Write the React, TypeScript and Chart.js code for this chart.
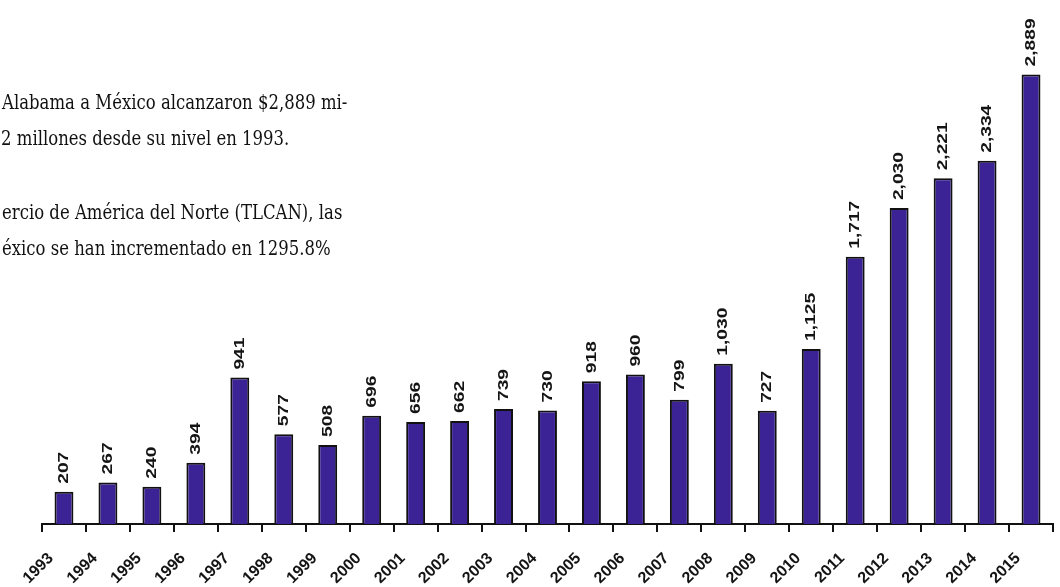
import React, { useEffect, useRef } from 'react';
import { Chart, registerables } from 'chart.js';

Chart.register(...registerables);

const years = ['1993', '1994', '1995', '1996', '1997', '1998', '1999', '2000', '2001', '2002', '2003', '2004', '2005', '2006', '2007', '2008', '2009', '2010', '2011', '2012', '2013', '2014', '2015'];
const exportsMillions = [207, 267, 240, 394, 941, 577, 508, 696, 656, 662, 739, 730, 918, 960, 799, 1030, 727, 1125, 1717, 2030, 2221, 2334, 2889];
const textLines = [
  { text: 'Alabama a México alcanzaron $2,889 mi-', y: 103, x: 2 },
  { text: '2 millones desde su nivel en 1993.', y: 139, x: 1 },
  { text: 'ercio de América del Norte (TLCAN), las', y: 213, x: 2 },
  { text: 'éxico se han incrementado en 1295.8%', y: 249, x: 2 },
];

const LABEL_STRETCH = 1.28;
const TEXT_STRETCH = 1.2;

export default function App() {
  const ref = useRef<HTMLCanvasElement | null>(null);

  useEffect(() => {
    const valueLabels = {
      id: 'valueLabels',
      afterDatasetsDraw(chart: any) {
        const ctx = chart.ctx;
        const meta = chart.getDatasetMeta(0);
        const data = chart.data.datasets[0].data as number[];
        ctx.save();
        ctx.fillStyle = '#141414';
        ctx.font = 'bold 15px "Liberation Sans", Arial, sans-serif';
        ctx.textAlign = 'left';
        ctx.textBaseline = 'middle';
        meta.data.forEach((bar: any, i: number) => {
          ctx.save();
          ctx.translate(bar.x, bar.y - 8);
          ctx.rotate(-Math.PI / 2);
          ctx.scale(LABEL_STRETCH, 1);
          ctx.fillText(data[i].toLocaleString('en-US'), 0, 0);
          ctx.restore();
        });
        ctx.restore();
      },
    };

    const chart = new Chart(ref.current as HTMLCanvasElement, {
      type: 'bar',
      data: {
        labels: years,
        datasets: [
          {
            data: exportsMillions,
            backgroundColor: '#3b2396',
            borderColor: '#111111',
            borderWidth: 2,
            barPercentage: 0.43,
            categoryPercentage: 1,
          },
        ],
      },
      options: {
        responsive: false,
        animation: false,
        layout: { padding: { top: 26, left: 42, right: 7, bottom: 0 } },
        plugins: { legend: { display: false }, tooltip: { enabled: false } },
        scales: {
          x: {
            grid: {
              display: true,
              drawOnChartArea: false,
              drawTicks: true,
              tickLength: 8,
              color: '#111111',
              lineWidth: 2,
              offset: true,
            },
            border: { display: true, color: '#111111', width: 2 },
            ticks: {
              maxRotation: 45,
              minRotation: 45,
              autoSkip: false,
              padding: 17,
              labelOffset: -13,
              color: '#141414',
              font: { family: '"Liberation Sans", Arial, sans-serif', size: 16, weight: 'bold' },
            },
            afterFit: (s: any) => {
              s.height = 63;
              s.paddingLeft = 0;
              s.paddingRight = 0;
            },
          },
          y: { display: false, min: 0, max: 3200 },
        },
      },
      plugins: [valueLabels],
    });
    return () => chart.destroy();
  }, []);

  return (
    <div style={{ position: 'absolute', left: 0, top: 0, width: 1060, height: 587, overflow: 'hidden', background: '#fff' }}>
      <canvas ref={ref} width={1060} height={587} style={{ display: 'block', position: 'absolute', left: 0, top: 0 }} />
      {textLines.map((l, i) => (
        <div
          key={i}
          style={{
            position: 'absolute',
            left: l.x,
            top: l.y - 11,
            height: 22,
            lineHeight: '22px',
            whiteSpace: 'nowrap',
            fontFamily: '"DejaVu Serif", serif',
            fontSize: 16.5,
            color: '#111',
            transform: `scaleY(${TEXT_STRETCH})`,
            transformOrigin: 'left center',
          }}
        >
          {l.text}
        </div>
      ))}
    </div>
  );
}
